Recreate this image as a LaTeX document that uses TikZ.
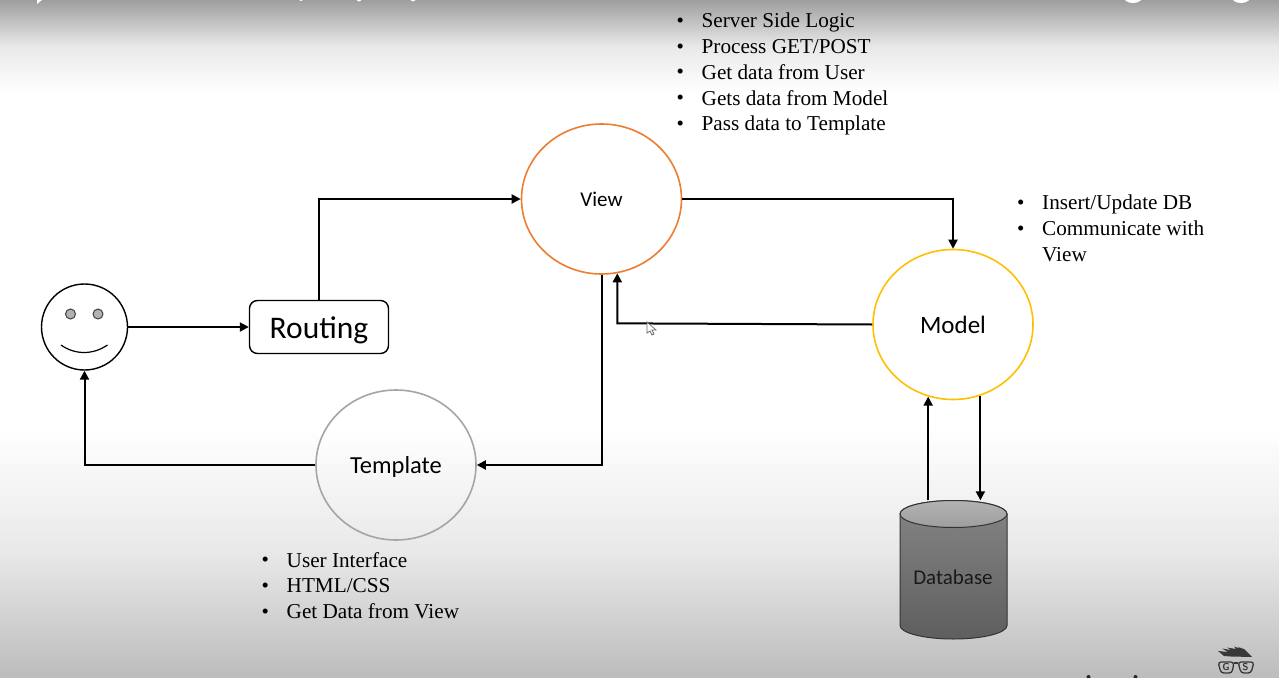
\documentclass[tikz,border=0pt]{standalone}
\usepackage{fontspec}
\setmainfont{Liberation Serif}
\newfontfamily\carl{Carlito}
\usetikzlibrary{arrows.meta,calc,shapes.geometric}
\newcommand{\bitem}[1]{\makebox[25pt][l]{\raisebox{0.5pt}{\fontsize{21}{21}\selectfont •}}#1}
\newcommand{\bcont}[1]{\hspace*{25pt}#1}
\definecolor{vieworange}{HTML}{ED7D31}
\definecolor{modelyellow}{HTML}{FFC000}
\definecolor{tplgray}{HTML}{A5A5A5}
\tikzset{
  arr/.style={draw=black,line width=2pt,-{Triangle[length=9pt,width=9pt]}},
  circ/.style={ellipse,minimum width=160pt,minimum height=150pt,inner sep=0pt,line width=1.6pt},
  blist/.style={anchor=north west,align=left,inner sep=0pt,font=\fontsize{21.2}{25.7}\selectfont},
}
\begin{document}
\begin{tikzpicture}[x=1pt,y=-1pt]
\useasboundingbox (0,0) rectangle (1279,677);
% background
\fill[white] (0,0) rectangle (1279,677);
\shade[top color=black!38,bottom color=white,middle color=black!9] (0,0) rectangle (1279,92);
\shade[top color=white,bottom color=black!26,middle color=black!9] (0,428) rectangle (1279,677);
% frame remnants at the edges
\begin{scope}
\clip (0,0) rectangle (1279,677);
\fill[white] (1133,-4) ellipse (10 and 7);
\fill[white] (1241,-4) ellipse (10 and 7);
\fill[white] (37,0) -- (42,0) -- (37,4) -- cycle;
\fill[white] (301,-1) circle (2);
\fill[white] (359,-1) circle (2.5);
\fill[white] (413,-1) circle (2.5);
\fill[black!85] (1088.5,677) circle (2);
\fill[black!85] (1135.5,677) circle (2);
\end{scope}
% user
\node[circle,draw=black,line width=1.4pt,minimum size=86pt,inner sep=0pt] (user) at (84.5,327) {};
\node[circle,draw=black!75,fill=black!30,line width=1pt,minimum size=10pt,inner sep=0pt] (eyeL) at (70.5,314) {};
\node[circle,draw=black!75,fill=black!30,line width=1pt,minimum size=10pt,inner sep=0pt] (eyeR) at (98,314) {};
\draw[black,line width=1.2pt] (61,345) .. controls (75,355) and (93,355) .. (107.5,345);
% routing
\node[draw=black,rounded corners=8pt,line width=1.4pt,minimum width=139pt,minimum height=53pt,inner sep=0pt] (routing) at (319,327) {};
\node[font=\carl\fontsize{31.5}{36}\selectfont,yshift=-3pt] (routinglabel) at (routing.center) {Routing};
% circles
\node[circ,draw=vieworange,font=\carl\fontsize{21}{25}\selectfont] (view) at (601.5,199) {View};
\node[circ,draw=modelyellow,font=\carl\fontsize{25}{29}\selectfont] (model) at (953,324.5) {Model};
\node[circ,draw=tplgray] (template) at (396,465) {};
\node[font=\carl\fontsize{24.5}{28}\selectfont,yshift=-2pt] (templatelabel) at (template.center) {Template};
% database
\shade[top color=black!48,bottom color=black!63,draw=black!80,line width=1pt]
  (900,514) -- (900,625.5) arc[start angle=180,end angle=0,x radius=53.5,y radius=13.5] -- (1007,514)
  arc[start angle=0,end angle=-180,x radius=53.5,y radius=13.5] -- cycle;
\shade[top color=black!30,bottom color=black!38,draw=black!80,line width=1pt]
  (953.5,514) ellipse (53.5 and 13.5);
\node[minimum width=107pt,minimum height=139pt,inner sep=0pt] (db) at (953.5,570) {};
\node[font=\carl\fontsize{21}{25}\selectfont,text=black!90] (dblabel) at (953,577) {Database};
% connectors
\coordinate (elbow) at ($(view.-78)+(0,50)$);
\draw[arr] (user.east |- routing.west) -- (routing.west);
\draw[arr] (routing.north) |- (view.west);
\draw[arr] (view.east) -| (model.north);
\draw[arr] (model.west) -- (elbow) -- (view.-78);
\draw[arr] (view.south) |- (template.east);
\draw[arr] (template.west) -| (user.south);
\draw[arr] (model.-69) -- (model.-69 |- db.north);
\draw[arr] (db.north -| model.251) -- (model.251);
% cursor
\fill[white,draw=black!60,line width=.7pt] (647,322) -- (647,333) -- (650,331) -- (652,335) -- (654,334) -- (652,330) -- (656,330) -- cycle;
% lists
\node[blist] (listview) at (676.5,13) {\bitem{Server Side Logic}\\\bitem{Process GET/POST}\\\bitem{Get data from User}\\\bitem{Gets data from Model}\\\bitem{Pass data to Template}};
\node[blist] (listmodel) at (1017,195) {\bitem{Insert/Update DB}\\\bitem{Communicate with}\\\bcont{View}};
\node[blist] (listtpl) at (261.5,552) {\bitem{User Interface}\\\bitem{HTML/CSS}\\\bitem{Get Data from View}};
% logo
\fill[black!78] (1218,651) -- (1228,652) -- (1222,648.5) -- (1231,650) -- (1227,647.5) -- (1236,649) -- (1234,646.5) -- (1240,648.5) -- (1238,647) -- (1244,649) -- (1252,657) -- (1231,656.5) -- (1224,656) -- cycle;
\draw[black!78,line width=1.3pt,rounded corners=3pt] (1218,662) -- (1234,662) -- (1232,673) -- (1221,673) -- cycle;
\draw[black!78,line width=1.3pt,rounded corners=3pt] (1238,662) -- (1254,662) -- (1251,673) -- (1241,673) -- cycle;
\draw[black!78,line width=1.3pt] (1234,663) -- (1238,663);
\node[font=\sffamily\bfseries\fontsize{10}{10}\selectfont,text=black!78,inner sep=0pt] (logoG) at (1226,667.5) {G};
\node[font=\sffamily\bfseries\fontsize{10}{10}\selectfont,text=black!78,inner sep=0pt] (logoS) at (1245.5,667.5) {S};
\end{tikzpicture}
\end{document}
